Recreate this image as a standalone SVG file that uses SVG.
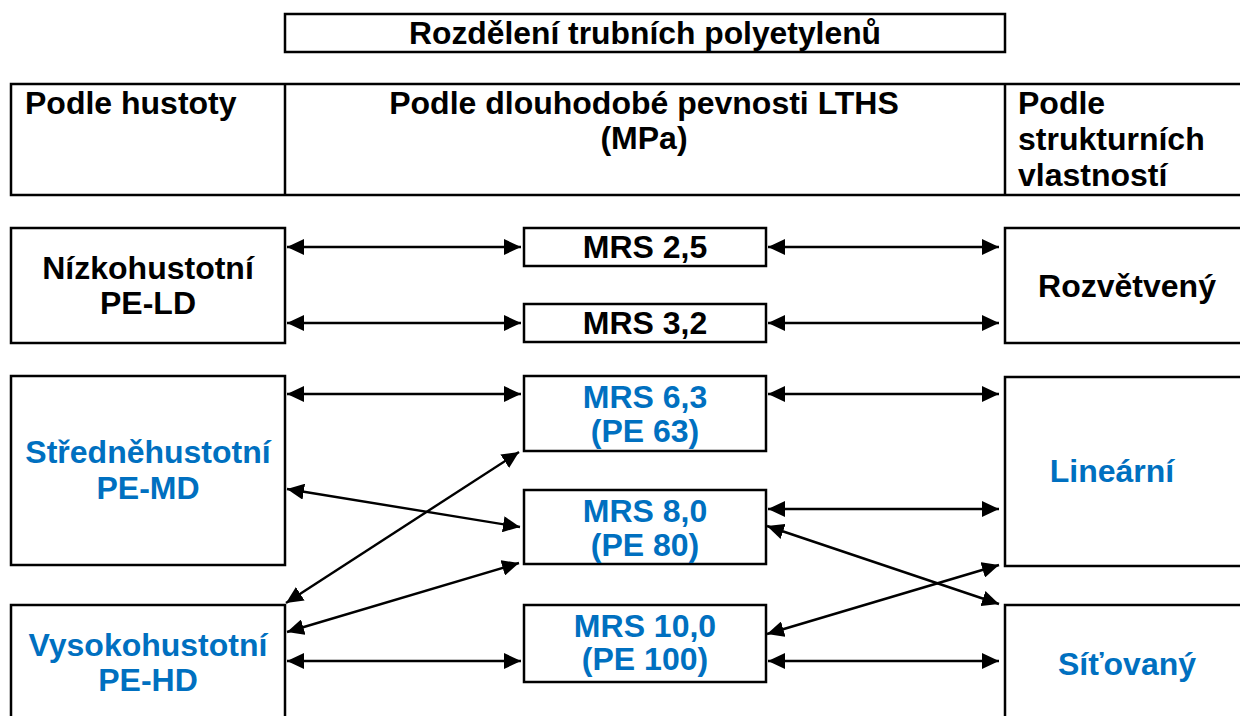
<svg xmlns="http://www.w3.org/2000/svg" width="1240" height="716" viewBox="0 0 1240 716">
  <style>
    .box { fill: #ffffff; stroke: #000000; stroke-width: 2.5; }
    .hdr { fill: none; stroke: #000000; stroke-width: 2.5; }
    .t { font-family: "Liberation Sans", Arial, sans-serif; font-weight: bold; font-size: 32px; fill: #000000; }
    .b { fill: #0070C0; }
    .c { text-anchor: middle; }
    .link { stroke: #000000; stroke-width: 2.4; fill: none; marker-start: url(#head); marker-end: url(#head); }
  </style>
  <defs>
    <marker id="head" viewBox="0 0 17 16" refX="17" refY="8" markerWidth="17" markerHeight="16" markerUnits="userSpaceOnUse" orient="auto-start-reverse">
      <path d="M0,0 L17,8 L0,16 z" fill="#000000"/>
    </marker>
  </defs>
  <rect width="1240" height="716" fill="#ffffff"/>

  <!-- title -->
  <g id="title">
    <rect class="box" x="285" y="14" width="720" height="38"/>
    <text class="t c" x="645" y="44" font-size="28" textLength="472" lengthAdjust="spacingAndGlyphs">Rozdělení trubních polyetylenů</text>
  </g>

  <!-- column headers -->
  <g id="header">
    <path class="hdr" d="M1250,84 H11 V195 H1250 M285,84 V195 M1005,84 V195"/>
    <text class="t" x="25" y="114">Podle hustoty</text>
    <text class="t c" x="644" y="114">Podle dlouhodobé pevnosti LTHS</text>
    <text class="t c" x="644" y="149">(MPa)</text>
    <text class="t" x="1018" y="114">Podle</text>
    <text class="t" x="1018" y="150">strukturních</text>
    <text class="t" x="1018" y="186">vlastností</text>
  </g>

  <!-- density column -->
  <g id="pe-ld">
    <rect class="box" x="11" y="228" width="274" height="115"/>
    <text class="t c" x="148" y="279">Nízkohustotní</text>
    <text class="t c" x="148" y="314">PE-LD</text>
  </g>
  <g id="pe-md">
    <rect class="box" x="11" y="376" width="274" height="189"/>
    <text class="t c b" x="148" y="463">Středněhustotní</text>
    <text class="t c b" x="148" y="499">PE-MD</text>
  </g>
  <g id="pe-hd">
    <rect class="box" x="11" y="605" width="274" height="130"/>
    <text class="t c b" x="148" y="656">Vysokohustotní</text>
    <text class="t c b" x="148" y="691">PE-HD</text>
  </g>

  <!-- strength column -->
  <g id="mrs25">
    <rect class="box" x="524" y="228" width="242" height="38"/>
    <text class="t c" x="645" y="258">MRS 2,5</text>
  </g>
  <g id="mrs32">
    <rect class="box" x="524" y="304" width="242" height="38"/>
    <text class="t c" x="645" y="334">MRS 3,2</text>
  </g>
  <g id="mrs63">
    <rect class="box" x="524" y="376" width="242" height="75"/>
    <text class="t c b" x="645" y="408">MRS 6,3</text>
    <text class="t c b" x="645" y="442">(PE 63)</text>
  </g>
  <g id="mrs80">
    <rect class="box" x="524" y="490" width="242" height="74"/>
    <text class="t c b" x="645" y="522">MRS 8,0</text>
    <text class="t c b" x="645" y="556">(PE 80)</text>
  </g>
  <g id="mrs100">
    <rect class="box" x="524" y="605" width="242" height="77"/>
    <text class="t c b" x="645" y="637">MRS 10,0</text>
    <text class="t c b" x="645" y="670">(PE 100)</text>
  </g>

  <!-- structure column -->
  <g id="branched">
    <rect class="box" x="1005" y="228" width="250" height="115"/>
    <text class="t c" x="1127" y="297">Rozvětvený</text>
  </g>
  <g id="linear">
    <rect class="box" x="1005" y="377" width="250" height="189"/>
    <text class="t c b" x="1112" y="482">Lineární</text>
  </g>
  <g id="crosslinked">
    <rect class="box" x="1005" y="605" width="250" height="130"/>
    <text class="t c b" x="1127" y="675">Síťovaný</text>
  </g>

  <!-- connectors -->
  <g id="connectors">
    <line class="link" x1="287" y1="247" x2="521" y2="247"/>
    <line class="link" x1="768" y1="247" x2="999" y2="247"/>
    <line class="link" x1="287" y1="323" x2="521" y2="323"/>
    <line class="link" x1="768" y1="323" x2="999" y2="323"/>
    <line class="link" x1="287" y1="394" x2="521" y2="394"/>
    <line class="link" x1="768" y1="394" x2="999" y2="394"/>
    <line class="link" x1="287" y1="489" x2="520" y2="527"/>
    <line class="link" x1="286" y1="603" x2="519" y2="452"/>
    <line class="link" x1="287" y1="632" x2="519" y2="563"/>
    <line class="link" x1="768" y1="509" x2="999" y2="509"/>
    <line class="link" x1="767" y1="526" x2="999" y2="604"/>
    <line class="link" x1="767" y1="634" x2="999" y2="565"/>
    <line class="link" x1="287" y1="661" x2="521" y2="661"/>
    <line class="link" x1="768" y1="661" x2="999" y2="661"/>
  </g>
</svg>
